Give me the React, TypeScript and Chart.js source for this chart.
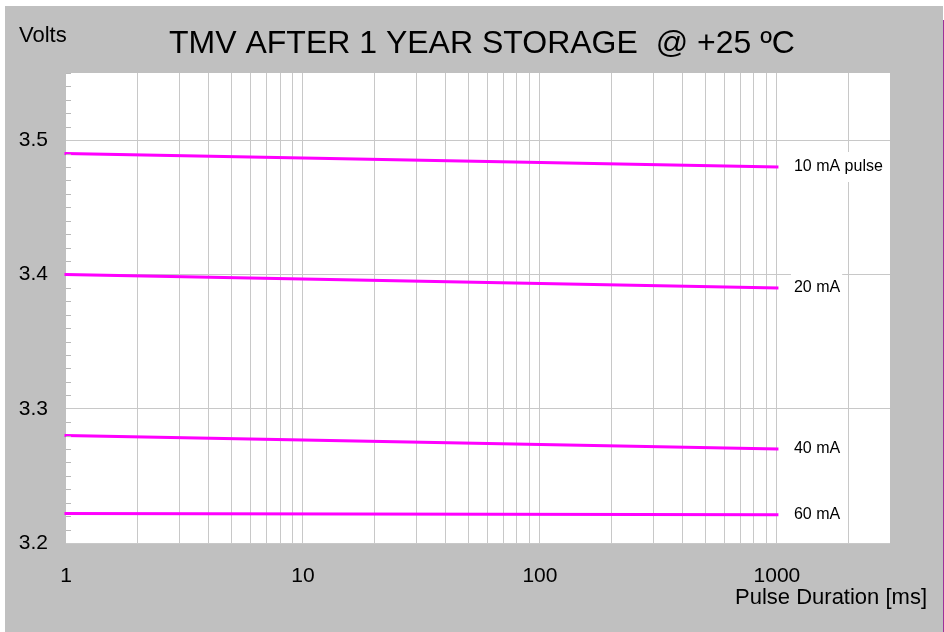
import { useEffect, useRef } from "react";
import { Chart, registerables } from "chart.js";

Chart.register(...registerables);

// ---- data ----
const durations = [1, 1000]; // ms
const v10 = [3.49, 3.48];
const v20 = [3.4, 3.39];
const v40 = [3.28, 3.27];
const v60 = [3.222, 3.221];
const seriesLabels = ["10 mA pulse", "20 mA", "40 mA", "60 mA"];
const seriesValues = [v10, v20, v40, v60];

const xTickLabels = [1, 10, 100, 1000];
const xMin = 1;
const xMax = 3000;
const yTickLabels = [3.2, 3.3, 3.4, 3.5];
const yMin = 3.2;
const yMax = 3.55;

const titleText = "TMV AFTER 1 YEAR STORAGE  @ +25 ºC";
const yTitle = "Volts";
const xTitle = "Pulse Duration [ms]";

const FONT = "'Liberation Sans', Arial, sans-serif";
const GRID = "#c8c8c8";
const BG = "#c0c0c0";
const LINE = "#ff00ff";

// minor grid values for the log axis (1..9 per decade, up to 2000)
const xGridValues: number[] = [];
for (const d of xTickLabels) {
  for (let m = 1; m <= 9; m++) {
    const v = d * m;
    if (v <= 2000) xGridValues.push(v);
  }
}

const decorPlugin = {
  id: "decor",
  beforeDraw(chart: any) {
    const ctx = chart.ctx;
    const a = chart.chartArea;
    ctx.save();
    ctx.fillStyle = BG;
    ctx.fillRect(5, 6, 938, 626);
    ctx.fillStyle = "#ffffff";
    ctx.fillRect(a.left, a.top, a.right - a.left, a.bottom - a.top);
    ctx.fillStyle = "#a0309a";
    ctx.fillRect(943, 20, 1, 612);
    ctx.restore();
  },
  afterDraw(chart: any) {
    const ctx = chart.ctx;
    const a = chart.chartArea;
    const xs = chart.scales.x;
    const ys = chart.scales.y;
    ctx.save();
    // minor y ticks every 0.01 inside the plot
    ctx.strokeStyle = "#b8b8b8";
    ctx.lineWidth = 1;
    for (let k = Math.round(yMin * 100) + 1; k <= Math.round(yMax * 100); k++) {
      if (k % 10 === 0) continue;
      const py = Math.round(ys.getPixelForValue(k / 100)) + 0.5;
      ctx.beginPath();
      ctx.moveTo(a.left, py);
      ctx.lineTo(a.left + 5, py);
      ctx.stroke();
    }
    // series labels at line ends
    ctx.font = `16px ${FONT}`;
    ctx.textBaseline = "middle";
    ctx.textAlign = "left";
    seriesValues.forEach((vals, i) => {
      const lastX = durations[durations.length - 1];
      const lastY = vals[vals.length - 1];
      const px = xs.getPixelForValue(lastX) + 17;
      const py = ys.getPixelForValue(lastY);
      const w = ctx.measureText(seriesLabels[i]).width;
      ctx.fillStyle = "#ffffff";
      ctx.fillRect(px - 3, py - 15, w + 5, 30);
      ctx.fillStyle = "#000000";
      ctx.fillText(seriesLabels[i], px, py);
    });
    // title
    ctx.fillStyle = "#000000";
    ctx.textBaseline = "alphabetic";
    ctx.font = `32px ${FONT}`;
    ctx.textAlign = "center";
    ctx.fillText(titleText, 482, 53);
    // y title
    ctx.font = `22px ${FONT}`;
    ctx.textAlign = "left";
    ctx.fillText(yTitle, 19, 42);
    // x title
    ctx.textAlign = "right";
    ctx.fillText(xTitle, 927, 604);
    ctx.restore();
  },
};

export default function App() {
  const ref = useRef<HTMLCanvasElement | null>(null);
  useEffect(() => {
    if (!ref.current) return;
    const chart = new Chart(ref.current, {
      type: "line",
      data: {
        datasets: seriesValues.map((vals, i) => ({
          label: seriesLabels[i],
          data: durations.map((x, j) => ({ x, y: vals[j] })),
          borderColor: LINE,
          backgroundColor: LINE,
          borderWidth: 3,
          borderCapStyle: "square",
          pointRadius: 0,
          fill: false,
          clip: false,
          tension: 0,
        })),
      },
      options: {
        animation: false,
        responsive: false,
        devicePixelRatio: 1,
        layout: { padding: { left: 0, right: 54, top: 73, bottom: 0 } },
        plugins: {
          legend: { display: false },
          tooltip: { enabled: false },
          title: { display: false },
        },
        scales: {
          x: {
            type: "logarithmic",
            min: xMin,
            max: xMax,
            afterBuildTicks: (s: any) => {
              s.ticks = xGridValues.map((v) => ({ value: v }));
            },
            afterFit: (s: any) => {
              s.height = 89;
            },
            ticks: {
              autoSkip: false,
              maxRotation: 0,
              minRotation: 0,
              padding: 21,
              color: "#000000",
              font: { family: FONT, size: 21 },
              callback: (v: any) => (xTickLabels.includes(Number(v)) ? String(v) : ""),
            },
            grid: {
              drawTicks: false,
              lineWidth: 1,
              color: (c: any) => (c.tick && c.tick.value === xMin ? "rgba(0,0,0,0)" : GRID),
            },
            border: { display: false },
          },
          y: {
            type: "linear",
            min: yMin,
            max: yMax,
            afterBuildTicks: (s: any) => {
              s.ticks = yTickLabels.map((v) => ({ value: v }));
            },
            afterFit: (s: any) => {
              s.width = 66;
            },
            ticks: {
              padding: 18,
              color: "#000000",
              font: { family: FONT, size: 21 },
              callback: (v: any) => Number(v).toFixed(1),
            },
            grid: { drawTicks: false, lineWidth: 1, color: GRID },
            border: { display: false },
          },
        },
      },
      plugins: [decorPlugin],
    } as any);
    return () => chart.destroy();
  }, []);
  return (
    <canvas
      ref={ref}
      width={944}
      height={632}
      style={{ position: "absolute", left: 0, top: 0, display: "block" }}
    />
  );
}
